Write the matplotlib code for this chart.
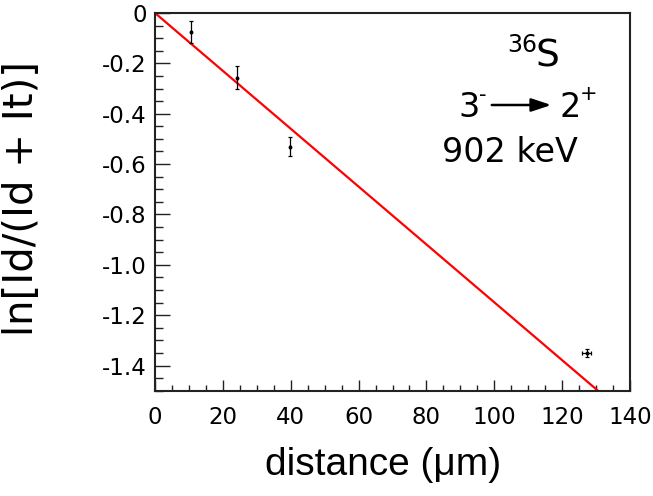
import matplotlib
matplotlib.use("Agg")
import matplotlib.pyplot as plt
from matplotlib.ticker import MultipleLocator, FixedFormatter, FixedLocator
import numpy as np

# data
distance = [10.6, 24.1, 39.8, 127.2]
distance_err = [0.0, 0.0, 0.0, 1.3]
ln_ratio = [-0.074, -0.257, -0.531, -1.351]
ln_ratio_err = [0.044, 0.046, 0.038, 0.016]
fit_x = [0.0, 140.0]
fit_slope = -0.01149
fit_intercept = 0.0

xticks = [0, 20, 40, 60, 80, 100, 120, 140]
yticks = [0, -0.2, -0.4, -0.6, -0.8, -1.0, -1.2, -1.4]
ytick_labels = ["0", "-0.2", "-0.4", "-0.6", "-0.8", "-1.0", "-1.2", "-1.4"]

W, H = 653, 496
fig = plt.figure(figsize=(W / 100, H / 100), dpi=100)
ax = fig.add_axes([155 / W, 1 - 390.7 / H, (630 - 155) / W, (390.7 - 13) / H])

fx = np.array(fit_x)
ax.plot(fx, fit_intercept + fit_slope * fx, color='#ff0000', lw=1.6, zorder=2)
ax.errorbar(distance, ln_ratio, yerr=ln_ratio_err, xerr=distance_err,
            fmt='o', ms=1.8, color='black', ecolor='black', elinewidth=0.9,
            capsize=1.5, capthick=0.9, zorder=3)

ax.set_xlim(0, 140)
ax.set_ylim(-1.5, 0)
ax.xaxis.set_major_locator(FixedLocator(xticks))
ax.xaxis.set_minor_locator(MultipleLocator(5))
ax.yaxis.set_major_locator(FixedLocator(yticks))
ax.yaxis.set_major_formatter(FixedFormatter(ytick_labels))
ax.yaxis.set_minor_locator(MultipleLocator(0.05))

ax.tick_params(axis='both', which='both', direction='in', top=False, right=False,
               colors='#222222', width=1.0, labelcolor='black')
ax.tick_params(axis='x', which='major', length=8, pad=11, labelsize=16.5)
ax.tick_params(axis='x', which='minor', length=4.5)
ax.tick_params(axis='y', which='major', length=11, pad=6, labelsize=16.5)
ax.tick_params(axis='y', which='minor', length=5.5)
for lab in ax.get_xticklabels() + ax.get_yticklabels():
    lab.set_fontfamily('DejaVu Sans')
for s in ax.spines.values():
    s.set_linewidth(1.5)
    s.set_color('#222222')

fig.text(22 / W, 1 - 199 / H, 'ln[Id/(Id + It)]', rotation=90, ha='center', va='center',
         fontsize=29, family='DejaVu Sans')
fig.text(383 / W, 1 - 465 / H, 'distance (μm)', ha='center', va='center',
         fontsize=28, family='Liberation Sans')

fig.text(507 / W, 1 - 52 / H, '36', ha='left', va='baseline', fontsize=17,
         family='DejaVu Sans')
fig.text(535 / W, 1 - 66.7 / H, 'S', ha='left', va='baseline', fontsize=27,
         family='DejaVu Sans')
fig.text(458 / W, 1 - 116.7 / H, '3', ha='left', va='baseline', fontsize=24,
         family='DejaVu Sans')
fig.text(479 / W, 1 - 101 / H, '-', ha='left', va='baseline', fontsize=15,
         family='DejaVu Sans')
fig.text(560 / W, 1 - 116.7 / H, '2', ha='left', va='baseline', fontsize=24,
         family='DejaVu Sans')
fig.text(580 / W, 1 - 100 / H, '+', ha='left', va='baseline', fontsize=15,
         family='DejaVu Sans')
fig.text(442 / W, 1 - 161.7 / H, '902 keV', ha='left', va='baseline', fontsize=24,
         family='DejaVu Sans')
fig.add_artist(matplotlib.patches.FancyArrowPatch(
    (489 / W, 1 - 105 / H), (554 / W, 1 - 105 / H), transform=fig.transFigure,
    arrowstyle='-|>,head_length=12,head_width=4', mutation_scale=1, color='black', lw=1.8))

fig.savefig('out.png', dpi=100)
